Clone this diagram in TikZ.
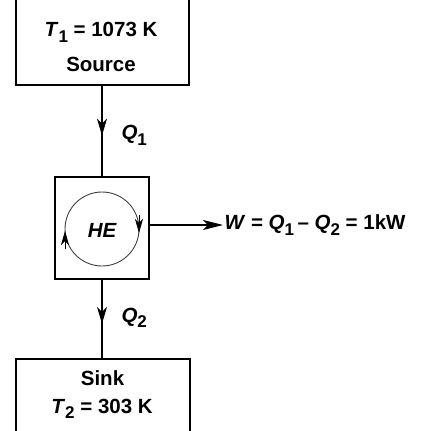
\documentclass[tikz,border=0pt]{standalone}
\usepackage{fontspec}
\setmainfont{Liberation Sans}
\usetikzlibrary{arrows.meta,decorations.markings,positioning}

\newcommand{\lowidx}[1]{\raisebox{-0.55ex}{\fontsize{17}{17}\selectfont #1}}

\tikzset{
  frame/.style={inner sep=0pt,outer sep=0pt},
  label text/.style={font=\fontsize{20.5}{22}\selectfont\bfseries,inner sep=0pt},
  flow tip/.style={Stealth[length=17pt,width=10pt,inset=5pt]},
  mid arrow/.style={postaction={decorate},decoration={markings,
      mark=at position #1 with {\arrow{Stealth[length=17pt,width=10pt,inset=5pt]}}}}
}

\begin{document}
\begin{tikzpicture}[x=1pt,y=-1pt,line width=1.1pt]
    \useasboundingbox (0,0) rectangle (435,430);
    % reservoirs and engine
    \coordinate (srcnw) at (16,-5);
    \coordinate (srcse) at (189,85);
    \node[frame,draw,minimum width=94pt,minimum height=102pt] (he) at (102,228) {};
    \coordinate (snknw) at (16,359);
    \coordinate (snkse) at (190,440);
    \draw (srcnw) -- (srcnw |- srcse) -- (srcse) -- (srcse |- srcnw);
    \draw (snknw |- snkse) -- (snknw) -- (snkse |- snknw) -- (snkse);
    \coordinate (srcs) at (102,85);
    \coordinate (snkn) at (102,359);
    % texts
    \node[label text,anchor=base] (t1) at (101,37) {\textit{T}\lowidx{1} = 1073 K};
    \node[label text,anchor=base] (src) at (101,72) {Source};
    \node[label text,anchor=base] (snk) at (102.5,385) {Sink};
    \node[label text,anchor=base] (t2) at (102,413) {\textit{T}\lowidx{2} = 303 K};
    % cycle
    \coordinate (cyc) at (102,229);
    \draw[line width=0.9pt,black!75] (cyc) circle[radius=37];
    \draw[line width=0.9pt,-{Stealth[length=14pt,width=8pt,inset=4pt]}] (cyc) ++(37,-14) -- ++(0,18);
    \draw[line width=0.9pt,-{Stealth[length=14pt,width=8pt,inset=4pt]}] (cyc) ++(-37,20) -- ++(0,-18);
    \node[label text,font=\fontsize{20.5}{22}\selectfont\bfseries\itshape,anchor=base] (helabel) at (102,237) {HE};
    % heat and work flows
    \draw[mid arrow=0.55] (srcs) -- (he.north);
    \node[label text,anchor=base west] (q1) at (121,140) {\textit{Q}\lowidx{1}};
    \draw[mid arrow=0.56] (he.south) -- (snkn);
    \node[label text,anchor=base west] (q2) at (121,322) {\textit{Q}\lowidx{2}};
    \node[label text,anchor=west,inner xsep=1pt] (w) at (223,225)
      {\textit{W} = \textit{Q}\lowidx{1}\,– \textit{Q}\lowidx{2} = 1kW};
    \draw[-{Stealth[length=20pt,width=10pt,inset=5pt]}] (he.east |- w.west) -- (w.west);
\end{tikzpicture}
\end{document}
